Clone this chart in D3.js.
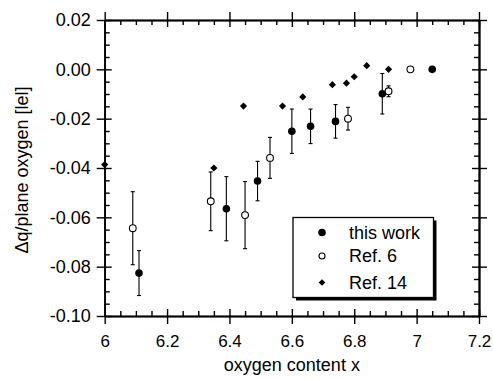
<!DOCTYPE html>
<html>
<head>
<meta charset="utf-8">
<script src="https://cdn.jsdelivr.net/npm/d3@7"></script>
<style>
  html, body { margin: 0; padding: 0; background: #fff; }
  svg { display: block; font-family: "Liberation Sans", Arial, Helvetica, sans-serif; }
</style>
</head>
<body>
<svg id="chart" width="493" height="379"></svg>
<script>
// ---- data ----
const thisWorkX   = [6.11, 6.39, 6.49, 6.60, 6.66, 6.74, 6.89, 7.05];
const thisWorkY   = [-0.0826, -0.0565, -0.0453, -0.0251, -0.0231, -0.0211, -0.0099, 0.000];
const thisWorkErr = [0.0091, 0.0130, 0.0080, 0.0090, 0.0070, 0.0068, 0.0082, 0];

const ref6X   = [6.09, 6.34, 6.45, 6.53, 6.78, 6.91, 6.98];
const ref6Y   = [-0.0644, -0.0535, -0.0591, -0.0359, -0.0200, -0.0089, 0.000];
const ref6Err = [0.0148, 0.0119, 0.0136, 0.0083, 0.0046, 0.0022, 0];

const ref14X = [6.00, 6.35, 6.445, 6.57, 6.635, 6.73, 6.775, 6.80, 6.84, 6.91];
const ref14Y = [-0.0386, -0.0400, -0.0149, -0.0149, -0.0112, -0.0062, -0.0056, -0.0030, 0.0015, 0.000];

const xTicks      = [6, 6.2, 6.4, 6.6, 6.8, 7, 7.2];
const xTickLabels = ["6", "6.2", "6.4", "6.6", "6.8", "7", "7.2"];
const yTicks      = [0.02, 0, -0.02, -0.04, -0.06, -0.08, -0.10];
const yTickLabels = ["0.02", "0.00", "-0.02", "-0.04", "-0.06", "-0.08", "-0.10"];

const legendLabels = ["this work", "Ref. 6", "Ref. 14"];

// ---- layout ----
const svg = d3.select("#chart");
const L = 104.7, R = 479, T = 20, B = 316;

const x = d3.scaleLinear().domain([6, 7.2]).range([L, R]);
const y = d3.scaleLinear().domain([-0.10, 0.02]).range([B, T]);

const xMinor = d3.range(0, 25).map(i => 6 + i * 0.05).filter(v => !xTicks.some(t => Math.abs(t - v) < 1e-6));
const yMinor = d3.range(0, 25).map(i => -0.10 + i * 0.005).filter(v => !yTicks.some(t => Math.abs(t - v) < 1e-6));

function styleAxis(g) {
  g.select(".domain").attr("stroke", "#000").attr("stroke-width", 1.6);
  g.selectAll(".tick line").attr("stroke", "#000").attr("stroke-width", 1.4);
  g.selectAll(".tick text").attr("fill", "#000");
}

// bottom axis: labels + outward major ticks
svg.append("g").attr("transform", `translate(0,${B})`)
  .call(d3.axisBottom(x).tickValues(xTicks).tickSize(8).tickSizeOuter(0).tickPadding(11)
    .tickFormat((d, i) => xTickLabels[i]))
  .call(styleAxis)
  .call(g => g.selectAll(".tick text").attr("font-size", 17));
svg.append("g").attr("transform", `translate(0,${B})`)
  .call(d3.axisBottom(x).tickValues(xTicks).tickSize(-7).tickSizeOuter(0).tickFormat(""))
  .call(styleAxis);
svg.append("g").attr("transform", `translate(0,${B})`)
  .call(d3.axisBottom(x).tickValues(xMinor).tickSize(-5).tickSizeOuter(0).tickFormat(""))
  .call(styleAxis);

// top axis
svg.append("g").attr("transform", `translate(0,${T})`)
  .call(d3.axisTop(x).tickValues(xTicks).tickSize(8).tickSizeOuter(0).tickFormat(""))
  .call(styleAxis);
svg.append("g").attr("transform", `translate(0,${T})`)
  .call(d3.axisTop(x).tickValues(xTicks).tickSize(-7).tickSizeOuter(0).tickFormat(""))
  .call(styleAxis);
svg.append("g").attr("transform", `translate(0,${T})`)
  .call(d3.axisTop(x).tickValues(xMinor).tickSize(-5).tickSizeOuter(0).tickFormat(""))
  .call(styleAxis);

// left axis: labels + outward major ticks
svg.append("g").attr("transform", `translate(${L},0)`)
  .call(d3.axisLeft(y).tickValues(yTicks).tickSize(8).tickSizeOuter(0).tickPadding(6)
    .tickFormat((d, i) => yTickLabels[i]))
  .call(styleAxis)
  .call(g => g.selectAll(".tick text").attr("font-size", 18));
svg.append("g").attr("transform", `translate(${L},0)`)
  .call(d3.axisLeft(y).tickValues(yTicks).tickSize(-7).tickSizeOuter(0).tickFormat(""))
  .call(styleAxis);
svg.append("g").attr("transform", `translate(${L},0)`)
  .call(d3.axisLeft(y).tickValues(yMinor).tickSize(-5).tickSizeOuter(0).tickFormat(""))
  .call(styleAxis);

// right axis
svg.append("g").attr("transform", `translate(${R},0)`)
  .call(d3.axisRight(y).tickValues(yTicks).tickSize(8).tickSizeOuter(0).tickFormat(""))
  .call(styleAxis);
svg.append("g").attr("transform", `translate(${R},0)`)
  .call(d3.axisRight(y).tickValues(yTicks).tickSize(-7).tickSizeOuter(0).tickFormat(""))
  .call(styleAxis);
svg.append("g").attr("transform", `translate(${R},0)`)
  .call(d3.axisRight(y).tickValues(yMinor).tickSize(-5).tickSizeOuter(0).tickFormat(""))
  .call(styleAxis);

// axis titles
svg.append("text")
  .attr("x", (L + R) / 2).attr("y", 371)
  .attr("text-anchor", "middle").attr("font-size", 18)
  .text("oxygen content x");
svg.append("text")
  .attr("transform", "translate(28,170) rotate(-90)")
  .attr("text-anchor", "middle").attr("font-size", 18)
  .text("\u0394q/plane oxygen [lel]");

// ---- marks ----
const thisWork = thisWorkX.map((v, i) => ({ x: v, y: thisWorkY[i], e: thisWorkErr[i] }));
const ref6 = ref6X.map((v, i) => ({ x: v, y: ref6Y[i], e: ref6Err[i] }));
const ref14 = ref14X.map((v, i) => ({ x: v, y: ref14Y[i] }));

function errorBars(data) {
  const g = svg.append("g").attr("stroke", "#000").attr("stroke-width", 1.1);
  const withErr = data.filter(d => d.e > 0);
  g.selectAll(".v").data(withErr).join("line")
    .attr("x1", d => x(d.x)).attr("x2", d => x(d.x))
    .attr("y1", d => y(d.y + d.e)).attr("y2", d => y(d.y - d.e));
  [1, -1].forEach(s => {
    g.selectAll(".c" + s).data(withErr).join("line")
      .attr("x1", d => x(d.x) - 2).attr("x2", d => x(d.x) + 2)
      .attr("y1", d => y(d.y + s * d.e)).attr("y2", d => y(d.y + s * d.e));
  });
}
errorBars(ref6);
errorBars(thisWork);

// square diamonds: a square symbol turned by 45 degrees
const diamond = d3.symbol().type(d3.symbolSquare).size(26);

svg.append("g").selectAll("path").data(ref14).join("path")
  .attr("d", diamond)
  .attr("transform", d => `translate(${x(d.x)},${y(d.y)}) rotate(45)`)
  .attr("fill", "#000");

svg.append("g").selectAll("circle").data(ref6).join("circle")
  .attr("cx", d => x(d.x)).attr("cy", d => y(d.y)).attr("r", 3.4)
  .attr("fill", "#fff").attr("stroke", "#000").attr("stroke-width", 1.1);

svg.append("g").selectAll("circle").data(thisWork).join("circle")
  .attr("cx", d => x(d.x)).attr("cy", d => y(d.y)).attr("r", 3.8)
  .attr("fill", "#000");

// ---- legend ----
const lg = svg.append("g").attr("transform", "translate(293,217.5)");
const lw = 140.5, lh = 80;
lg.append("rect").attr("x", 3).attr("y", 3).attr("width", lw).attr("height", lh).attr("fill", "#000");
lg.append("rect").attr("x", 0).attr("y", 0).attr("width", lw).attr("height", lh)
  .attr("fill", "#fff").attr("stroke", "#000").attr("stroke-width", 1.3);

const rowY = [15, 38.5, 65];
const rows = lg.selectAll(".row").data(legendLabels).join("g")
  .attr("transform", (d, i) => `translate(0,${rowY[i]})`);
rows.append("text").attr("x", 56).attr("y", 6.3).attr("font-size", 18).text(d => d);
rows.filter((d, i) => i === 0).append("circle").attr("cx", 29).attr("r", 3.8).attr("fill", "#000");
rows.filter((d, i) => i === 1).append("circle").attr("cx", 29).attr("r", 3)
  .attr("fill", "#fff").attr("stroke", "#000").attr("stroke-width", 1.1);
rows.filter((d, i) => i === 2).append("path")
  .attr("d", d3.symbol().type(d3.symbolSquare).size(22))
  .attr("transform", "translate(29,0) rotate(45)").attr("fill", "#000");
</script>
</body>
</html>
